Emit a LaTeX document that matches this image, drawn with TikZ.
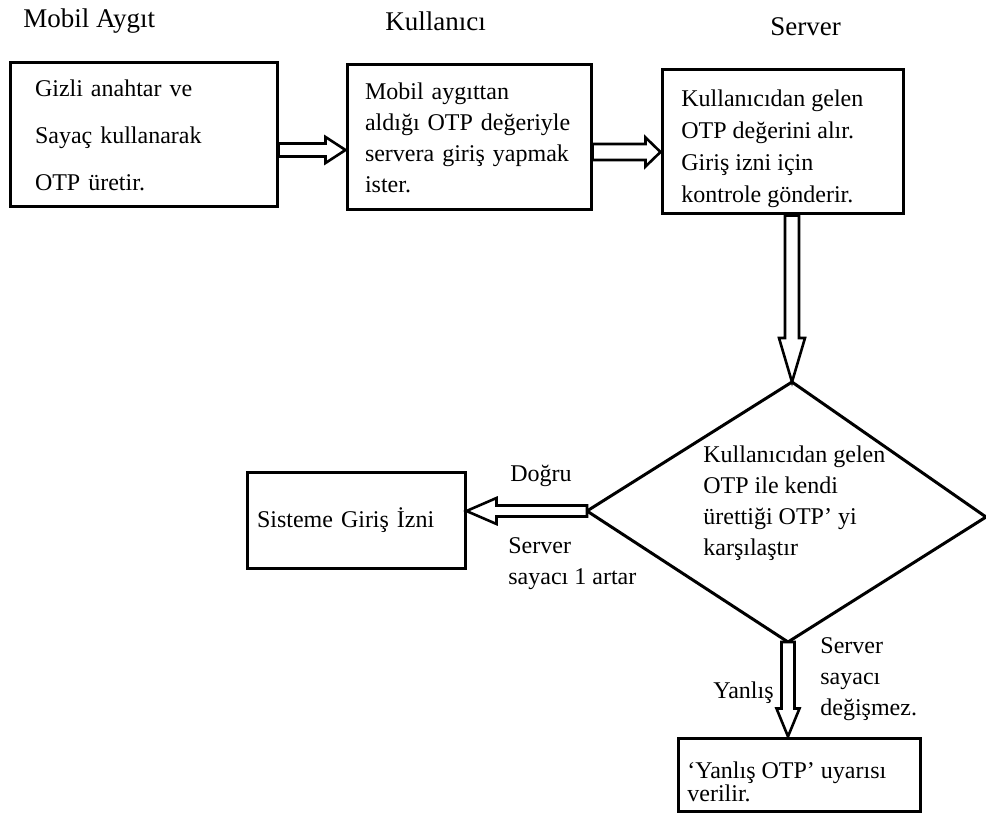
\documentclass[tikz,border=0pt]{standalone}
\usepackage{fontspec}
\setmainfont{Liberation Serif}
\usetikzlibrary{calc}
\tikzset{
  box/.style={draw, line width=1.5pt, align=left, inner ysep=0pt,
    font=\fontsize{12}{15.5}\selectfont},
  blockarrow/.style={draw, fill=white, line width=1.3pt, line join=miter},
  outline/.style={draw, line width=1.5pt, line join=miter},
  lbl/.style={anchor=west, align=left, inner sep=0pt,
    font=\fontsize{12}{15.5}\selectfont},
  head/.style={anchor=base west, inner sep=0pt, font=\fontsize{13.5}{16}\selectfont},
}
% hollow block arrow along x: start, tip, half shaft, half head, signed head length
\newcommand\blockH[5]{%
  \draw[blockarrow] ($(#1)+(0,#3)$) -- ($(#2)+(#5,#3)$) -- ($(#2)+(#5,#4)$)
    -- (#2) -- ($(#2)+(#5,-#4)$) -- ($(#2)+(#5,-#3)$) -- ($(#1)+(0,-#3)$) -- cycle;}
% hollow block arrow along y
\newcommand\blockV[5]{%
  \draw[blockarrow] ($(#1)+(#3,0)$) -- ($(#2)+(#3,#5)$) -- ($(#2)+(#4,#5)$)
    -- (#2) -- ($(#2)+(-#4,#5)$) -- ($(#2)+(-#3,#5)$) -- ($(#1)+(-#3,0)$) -- cycle;}
\begin{document}
\begin{tikzpicture}[x=0.5pt,y=-0.5pt]
\useasboundingbox (0,0) rectangle (986,813);

% column headings
\node[head] (h1) at (23,28) {Mobil Aygıt};
\node[head] (h2) at (385,31) {Kullanıcı};
\node[head] (h3) at (770,36) {Server};

% process boxes
\node[box, text width=108.5pt, inner xsep=12.5pt, minimum height=72pt,
  font=\fontsize{12}{23.5}\selectfont] (mobil) at (143.5,135)
  {Gizli anahtar ve\\Sayaç kullanarak\\OTP üretir.};
\node[box, text width=104pt, inner xsep=9pt, minimum height=72.5pt] (kull) at (469,137.5)
  {Mobil aygıttan\\aldığı OTP değeriyle\\servera giriş yapmak\\ister.};
\node[box, minimum width=120.5pt, minimum height=72pt] (srv) at (782.5,142) {};
\node[lbl, font=\fontsize{12}{16}\selectfont] (srvtext) at (681,148.5)
  {Kullanıcıdan gelen\\OTP değerini alır.\\Giriş izni için\\kontrole gönderir.};
\node[box, text width=99pt, inner xsep=5pt, minimum height=48pt] (sis) at (356,520)
  {Sisteme Giriş İzni};
\node[box, minimum width=121pt, minimum height=36.5pt] (warn) at (799,774.5) {};
\node[lbl, font=\fontsize{12}{11.5}\selectfont] (warntext) at (687,781.5)
  {‘Yanlış OTP’ uyarısı\\verilir.};

% decision diamond
\coordinate (dtop) at (792,382);
\coordinate (dright) at (986,517);
\coordinate (dbottom) at (788,642);
\coordinate (dleft) at (587,511);
\draw[outline] (dtop) -- (dright) -- (dbottom) -- (dleft) -- cycle;
\node[lbl] (cmp) at (703,503)
  {Kullanıcıdan gelen\\OTP ile kendi\\ürettiği OTP’ yi\\karşılaştır};

% connector end points
\coordinate (a1s) at (mobil.east |- 0,150);
\coordinate (a1e) at (kull.west |- 0,150);
\coordinate (a2s) at (kull.east |- 0,152);
\coordinate (a2e) at (srv.west |- 0,152);
\coordinate (a3s) at (srv.south -| dtop);
\coordinate (a4e) at (sis.east |- dleft);
\coordinate (a5e) at (warn.north -| dbottom);

\blockH{a1s}{a1e}{6.5}{13}{-20}
\blockH{a2s}{a2e}{8}{14.5}{-15}
\blockV{a3s}{dtop}{7}{13}{-44}
\blockH{dleft}{a4e}{5.5}{13}{30}
\blockV{dbottom}{a5e}{6.5}{11.5}{-28}

% branch labels
\node[lbl] (dogru) at (510,476) {Doğru};
\node[lbl] (artar) at (508,564) {Server\\sayacı 1 artar};
\node[lbl] (yanlis) at (713,693) {Yanlış};
\node[lbl] (sabit) at (820,679) {Server\\sayacı\\değişmez.};
\end{tikzpicture}
\end{document}
